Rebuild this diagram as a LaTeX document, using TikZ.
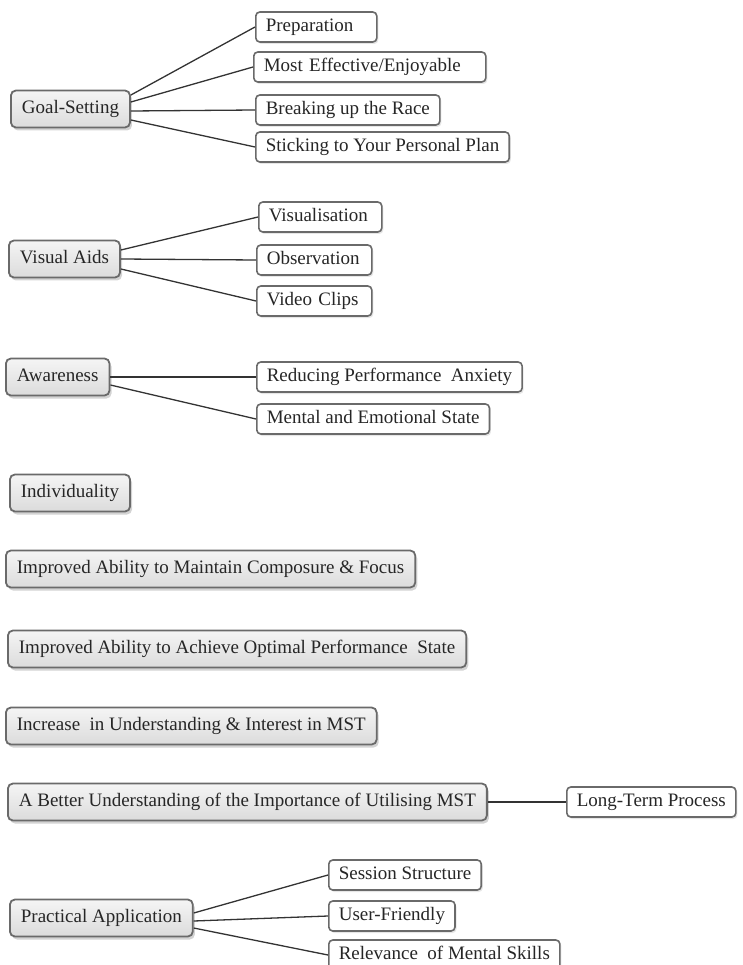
\documentclass[tikz,border=0pt]{standalone}
\usepackage{fontspec}
\setmainfont{Liberation Serif}
\usetikzlibrary{shadows}
\definecolor{boxline}{HTML}{6A6A6A}
\definecolor{ink}{HTML}{262626}
\begin{document}
\begin{tikzpicture}[x=1pt,y=-1pt,font=\fontsize{19}{22}\selectfont,text=ink,
	topicbox/.style={anchor=west,draw=boxline,line width=1.8pt,rounded corners=5pt,
		top color=gray!8,bottom color=gray!28,inner xsep=11pt,inner ysep=10pt,
		text height=13pt,text depth=4pt,
		drop shadow={shadow xshift=2pt,shadow yshift=-3pt,opacity=0.35}},
	itembox/.style={anchor=west,draw=boxline,line width=1.6pt,rounded corners=4pt,
		fill=white,inner xsep=10pt,inner ysep=6.5pt,text height=13pt,text depth=4pt,
		align=left,drop shadow={shadow xshift=1.5pt,shadow yshift=-2pt,opacity=0.2}},
	link/.style={draw=black!80,line width=1.3pt}]
	\useasboundingbox (0,0) rectangle (743,965);
	% main topics
	\node[topicbox] (gs) at (10,109) {Goal-Setting};
	\node[topicbox] (va) at (8,259) {Visual Aids};
	\node[topicbox] (aw) at (5,377) {Awareness};
	\node[topicbox] (ind) at (9,493) {Individuality};
	\node[topicbox] (mcf) at (5,569) {Improved Ability to Maintain Composure \& Focus};
	\node[topicbox] (ops) at (7,649) {Improved Ability to Achieve Optimal Performance\ \ State};
	\node[topicbox] (uim) at (5,726) {Increase\ \ in Understanding \& Interest in MST};
	\node[topicbox] (bu) at (7,802) {A Better Understanding of the Importance of Utilising MST};
	\node[topicbox] (pa) at (9,918) {Practical Application};
	% sub items
	\node[itembox,text width=101pt] (prep) at (255,27) {Preparation};
	\node[itembox,text width=212pt] (mee) at (253,67) {Most Effective/Enjoyable};
	\node[itembox] (bur) at (255,110) {Breaking up the Race};
	\node[itembox] (stick) at (255,147) {Sticking to Your Personal Plan};
	\node[itembox,text width=103pt] (vis) at (258,217) {Visualisation};
	\node[itembox,text width=95pt] (obs) at (256,260) {Observation};
	\node[itembox,text width=95pt] (vc) at (256,301) {Video Clips};
	\node[itembox] (rpa) at (256,377) {Reducing Performance\ \ Anxiety};
	\node[itembox] (mes) at (256,419) {Mental and Emotional State};
	\node[itembox] (ltp) at (566,802) {Long-Term Process};
	\node[itembox] (ss) at (328,875) {Session Structure};
	\node[itembox] (uf) at (328,916) {User-Friendly};
	\node[itembox] (rms) at (328,955) {Relevance\ \ of Mental Skills};
	% links
	\draw[link] ([yshift=14pt]gs.east) -- (prep.west);
	\draw[link] ([yshift=7pt]gs.east) -- (mee.west);
	\draw[link] ([yshift=-2pt]gs.east) -- (bur.west);
	\draw[link] ([yshift=-11pt]gs.east) -- (stick.west);
	\draw[link] ([yshift=9pt]va.east) -- (vis.west);
	\draw[link] (va.east) -- (obs.west);
	\draw[link] ([yshift=-10pt]va.east) -- (vc.west);
	\draw[link] (aw.east) -- (rpa.west);
	\draw[link] ([yshift=-8pt]aw.east) -- (mes.west);
	\draw[link] (bu.east) -- (ltp.west);
	\draw[link] ([yshift=5pt]pa.east) -- (ss.west);
	\draw[link] ([yshift=-3pt]pa.east) -- (uf.west);
	\draw[link] ([yshift=-10pt]pa.east) -- (rms.west);
\end{tikzpicture}
\end{document}
